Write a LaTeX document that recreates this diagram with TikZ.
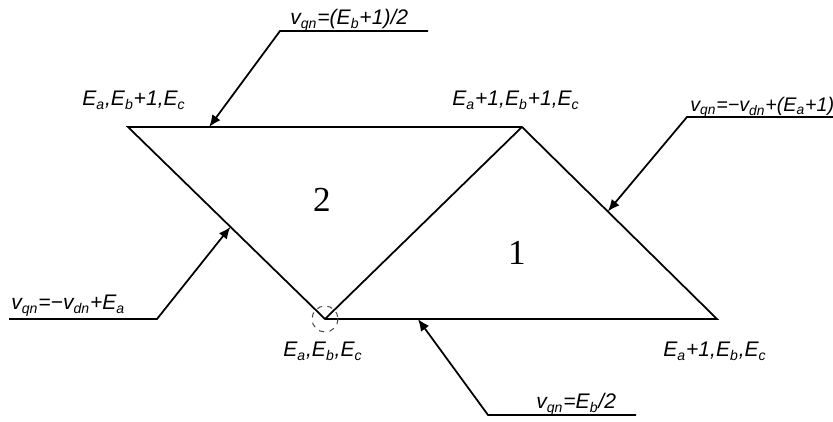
\documentclass[tikz,border=0pt]{standalone}
\usepackage{fontspec}
\setmainfont{Liberation Sans}
\newfontfamily\regionfont{Liberation Serif}
\usetikzlibrary{positioning,arrows.meta,calc}
\newcommand{\sbs}[1]{\textsubscript{#1}}

\begin{document}
\begin{tikzpicture}[
    x=0.02cm, y=-0.02cm,
    edge/.style={line width=1pt, black},
    callout/.style={line width=1pt, -{Latex[length=2.4mm, width=2mm]}},
    vlabel/.style={anchor=base west, inner sep=0pt, font=\fontsize{12}{14}\selectfont\itshape},
    eqlabel/.style={anchor=base west, inner sep=0pt, font=\fontsize{12}{14}\selectfont\itshape},
    region/.style={anchor=base, inner sep=0pt, font=\fontsize{20}{22}\selectfont\regionfont}
]
\useasboundingbox (0,0) rectangle (833,422);

\coordinate (A) at (128,127);
\coordinate (B) at (522,127);
\coordinate (O) at (325,319);
\coordinate (C) at (717,319);

\draw[edge] (A) -- (B) -- (C) -- (O) -- cycle;
\draw[edge] (O) -- (B);
\draw[dashed, black!70, line width=0.6pt] (O) circle (13);

\node[vlabel] (Alabel) at (82,106) {E\sbs{a},E\sbs{b}+1,E\sbs{c}};
\node[vlabel] (Blabel) at (452,106) {E\sbs{a}+1,E\sbs{b}+1,E\sbs{c}};
\node[vlabel] (Olabel) at (283,357) {E\sbs{a},E\sbs{b},E\sbs{c}};
\node[vlabel] (Clabel) at (663,357) {E\sbs{a}+1,E\sbs{b},E\sbs{c}};

\node[region] (two) at (322,212) {2};
\node[region] (one) at (517,265) {1};

\coordinate (topend) at (428,31);
\coordinate (topbend) at (280,31);
\coordinate (toptip) at ($(A)!0.206!(B)$);
\node[eqlabel] (topeq) at (290,25) {v\sbs{qn}=(E\sbs{b}+1)/2};
\draw[callout] (topend) -- (topbend) -- (toptip);

\coordinate (rightend) at (833,117);
\coordinate (rightbend) at (687,117);
\coordinate (righttip) at ($(B)!0.44!(C)$);
\node[eqlabel, font=\fontsize{11.2}{13}\selectfont\itshape] (righteq) at (690,112) {v\sbs{qn}=−v\sbs{dn}+(E\sbs{a}+1)};
\draw[callout] (rightend) -- (rightbend) -- (righttip);

\coordinate (leftend) at (9,319);
\coordinate (leftbend) at (157,319);
\coordinate (lefttip) at ($(A)!0.52!(O)$);
\node[eqlabel] (lefteq) at (11,310) {v\sbs{qn}=−v\sbs{dn}+E\sbs{a}};
\draw[callout] (leftend) -- (leftbend) -- (lefttip);

\coordinate (bottomend) at (636,415);
\coordinate (bottombend) at (488,415);
\coordinate (bottomtip) at ($(O)!0.237!(C)$);
\node[eqlabel] (bottomeq) at (536,409) {v\sbs{qn}=E\sbs{b}/2};
\draw[callout] (bottomend) -- (bottombend) -- (bottomtip);

\end{tikzpicture}
\end{document}
